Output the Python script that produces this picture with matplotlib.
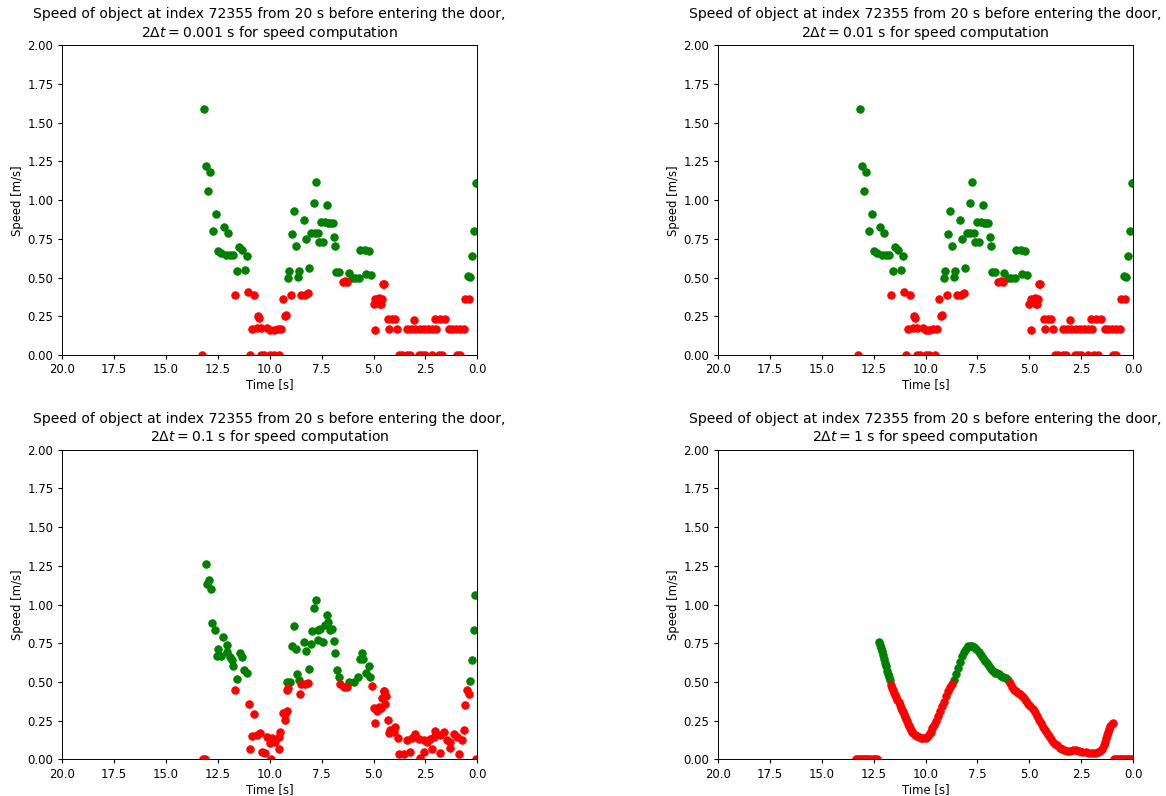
import matplotlib
matplotlib.use("Agg")
import matplotlib.pyplot as plt

TITLE = "Speed of object at index 72355 from 20 s before entering the door,\n$2\\Delta t = {}$ s for speed computation"
DT_LABELS = ["0.001", "0.01", "0.1", "1"]

# --- 2dt = 0.001 s (the 0.01 s panel looks the same) ---
t1_green = [13.16, 13.08, 12.87, 12.98, 12.59, 12.74, 12.19, 11.98, 12.47, 12.35, 12.1, 11.9, 11.75,
            11.47, 11.31, 11.08, 11.58, 11.18, 9.06, 9.12, 8.58, 8.64, 8.1, 7.77, 7.86, 7.25, 8.82,
            8.34, 7.53, 7.33, 7.2, 7.08, 6.97, 8.9, 8.01, 7.84, 7.68, 8.26, 7.61, 7.41, 8.74, 6.92,
            6.84, 6.81, 6.68, 6.2, 6.03, 5.87, 5.71, 5.64, 5.43, 5.2, 5.36, 5.1,
            0.02, 0.06, 0.18, 0.26, 0.47, 0.34]
v1_green = [1.59, 1.22, 1.18, 1.06, 0.91, 0.80, 0.83, 0.79, 0.67, 0.66, 0.645, 0.645, 0.645,
            0.70, 0.68, 0.64, 0.54, 0.55, 0.54, 0.50, 0.54, 0.505, 0.56, 1.12, 0.985, 0.97, 0.93,
            0.87, 0.86, 0.86, 0.855, 0.855, 0.85, 0.78, 0.79, 0.79, 0.785, 0.75, 0.73, 0.73, 0.705, 0.76,
            0.705, 0.535, 0.535, 0.53, 0.50, 0.50, 0.50, 0.68, 0.68, 0.675, 0.52, 0.515,
            1.11, 1.11, 0.80, 0.64, 0.51, 0.505]
t1_red = [11.66, 11.02, 10.75, 10.57, 10.5, 10.86, 10.62, 10.41, 10.13, 9.97, 9.81, 9.62, 9.46,
          9.36, 9.25, 9.2, 13.26, 10.95, 10.4, 10.26, 9.97, 9.81, 9.55, 8.98, 8.48, 8.29, 8.13,
          6.49, 6.28, 6.38, 4.56, 4.48, 4.92, 4.72, 4.59, 5.0, 4.67, 4.62, 4.92, 4.32, 4.11, 3.95,
          3.07, 2.02, 1.78, 1.54, 4.27, 3.87, 3.39, 3.2, 2.99, 2.78, 2.59, 2.39, 2.18, 1.98, 1.38,
          1.22, 1.01, 0.82, 0.66, 3.79, 3.63, 3.39, 3.23, 2.83, 2.67, 2.51, 2.18, 1.87, 1.7, 0.98,
          0.82, 0.58, 0.42]
v1_red = [0.39, 0.41, 0.39, 0.25, 0.24, 0.17, 0.175, 0.175, 0.175, 0.16, 0.16, 0.17, 0.17,
          0.36, 0.25, 0.26, 0.0, 0.0, 0.0, 0.0, 0.0, 0.0, 0.0, 0.39, 0.385, 0.39, 0.40,
          0.47, 0.47, 0.48, 0.46, 0.46, 0.36, 0.37, 0.36, 0.33, 0.33, 0.33, 0.16, 0.23, 0.23, 0.235,
          0.225, 0.23, 0.235, 0.23, 0.165, 0.165, 0.165, 0.165, 0.165, 0.165, 0.165, 0.165, 0.165, 0.165, 0.165,
          0.165, 0.165, 0.165, 0.165, 0.0, 0.0, 0.0, 0.0, 0.0, 0.0, 0.0, 0.0, 0.0, 0.0, 0.0,
          0.0, 0.36, 0.36]

# --- 2dt = 0.1 s ---
t3_green = [13.07, 12.92, 13.0, 12.83, 12.76, 12.63, 12.22, 12.03, 12.47, 12.52, 12.35, 12.06, 11.9,
            11.82, 11.42, 11.34, 11.74, 11.58, 11.23, 11.07, 9.14, 9.01,
            7.77, 7.86, 8.82, 7.25, 7.17, 7.0, 7.08, 7.33, 7.57, 7.68, 7.94, 7.65, 7.41, 6.92, 8.34,
            8.01, 8.26, 8.93, 8.74, 6.84, 8.1, 8.66, 8.58, 6.76, 6.68, 6.2, 5.96, 5.75, 5.56, 5.53,
            5.64, 5.24, 5.36, 5.16, 0.10, 0.18, 0.26, 0.34]
v3_green = [1.26, 1.16, 1.13, 1.10, 0.88, 0.835, 0.79, 0.74, 0.71, 0.67, 0.67, 0.695, 0.66,
            0.64, 0.685, 0.66, 0.60, 0.52, 0.58, 0.56, 0.50, 0.50,
            1.03, 0.975, 0.86, 0.93, 0.89, 0.845, 0.835, 0.87, 0.845, 0.835, 0.83, 0.77, 0.76, 0.765, 0.76,
            0.745, 0.70, 0.73, 0.71, 0.685, 0.585, 0.55, 0.51, 0.58, 0.53, 0.50, 0.50, 0.53, 0.69, 0.65,
            0.65, 0.60, 0.56, 0.535, 1.06, 0.835, 0.645, 0.505]
t3_red = [11.66, 11.0, 10.75, 10.86, 10.62, 10.46, 10.13, 9.9, 9.73, 9.57, 9.98, 9.49, 10.94, 10.38,
          10.22, 9.53, 9.94, 13.19, 13.1, 9.36, 9.25, 9.17, 9.12, 9.17, 9.25, 8.48, 8.29, 8.13, 8.52,
          6.6, 6.44, 6.28, 5.08, 4.51, 4.59, 5.0, 4.76, 4.84, 4.92, 4.43, 4.48, 4.4, 4.64, 4.32, 4.19,
          3.95, 4.27, 4.03, 3.84, 3.39, 3.15, 2.99, 2.83, 2.59, 2.42, 2.27, 2.1, 2.02, 1.78, 1.62, 1.46,
          1.3, 1.14, 0.98, 0.74, 0.66, 3.79, 3.52, 3.23, 2.59, 2.18, 1.78, 1.3, 0.9, 2.78, 0.50, 0.42,
          0.58, 0.05]
v3_red = [0.445, 0.36, 0.29, 0.15, 0.16, 0.17, 0.147, 0.137, 0.115, 0.147, 0.108, 0.18, 0.07, 0.045,
          0.04, 0.07, 0.005, 0.0, 0.0, 0.30, 0.29, 0.45, 0.46, 0.31, 0.255, 0.487, 0.49, 0.495, 0.42,
          0.49, 0.47, 0.47, 0.475, 0.44, 0.395, 0.33, 0.34, 0.31, 0.234, 0.36, 0.44, 0.41, 0.33, 0.255, 0.19,
          0.21, 0.17, 0.18, 0.137, 0.126, 0.137, 0.165, 0.13, 0.126, 0.115, 0.13, 0.147, 0.184, 0.158, 0.18, 0.126,
          0.115, 0.165, 0.147, 0.126, 0.19, 0.035, 0.035, 0.05, 0.05, 0.066, 0.044, 0.072, 0.035, 0.008, 0.45, 0.42,
          0.35, 0.0]

# --- 2dt = 1 s ---
t4_green = [12.25, 12.2, 12.15, 12.1, 12.05, 12.0, 11.95, 11.9, 11.85, 11.8, 11.75, 11.7,
            8.65, 8.55, 8.45, 8.35, 8.25, 8.15, 8.05, 7.95, 7.85, 7.75, 7.65, 7.55, 7.45, 7.35,
            7.25, 7.15, 7.05, 6.95, 6.85, 6.75, 6.65, 6.55, 6.45, 6.35, 6.25, 6.15, 6.05]
v4_green = [0.76, 0.74, 0.72, 0.70, 0.675, 0.65, 0.62, 0.60, 0.57, 0.55, 0.535, 0.515,
            0.51, 0.55, 0.59, 0.63, 0.665, 0.695, 0.715, 0.73, 0.73, 0.73, 0.725, 0.715, 0.695, 0.675,
            0.655, 0.635, 0.62, 0.605, 0.585, 0.57, 0.56, 0.555, 0.55, 0.54, 0.535, 0.525, 0.51]
t4_red = [13.35, 13.25, 13.15, 13.05, 12.95, 12.85, 12.75, 12.65, 12.55, 12.45, 12.35,
          11.65, 11.6, 11.55, 11.5, 11.45, 11.4, 11.35, 11.3, 11.25, 11.2, 11.15, 11.1, 11.05, 11.0,
          10.95, 10.9, 10.85, 10.8, 10.75, 10.7, 10.65, 10.6, 10.5, 10.4, 10.3, 10.2, 10.1, 10.0,
          9.9, 9.8, 9.75, 9.7, 9.6, 9.5, 9.4, 9.3, 9.2, 9.1, 9.0, 8.9, 8.8, 8.72,
          5.95, 5.85, 5.75, 5.65, 5.55, 5.45, 5.35, 5.25, 5.15, 5.05, 4.95, 4.85, 4.75, 4.65, 4.55,
          4.45, 4.35, 4.25, 4.15, 4.05, 3.95, 3.85, 3.75, 3.65, 3.55, 3.45, 3.35, 3.2, 3.05, 2.9,
          2.75, 2.6, 2.45, 2.3, 2.15, 2.0, 1.85, 1.7, 1.6, 1.5, 1.42, 1.36, 1.3, 1.25, 1.2, 1.15,
          1.1, 1.05, 1.0, 0.95, 0.85, 0.75, 0.65, 0.55, 0.45, 0.35, 0.25, 0.15, 0.05]
v4_red = [0.0, 0.0, 0.0, 0.0, 0.0, 0.0, 0.0, 0.0, 0.0, 0.0, 0.0,
          0.48, 0.46, 0.445, 0.43, 0.415, 0.40, 0.385, 0.37, 0.35, 0.335, 0.32, 0.305, 0.29, 0.275,
          0.26, 0.245, 0.23, 0.215, 0.20, 0.19, 0.18, 0.17, 0.16, 0.15, 0.145, 0.14, 0.14, 0.14,
          0.15, 0.17, 0.18, 0.20, 0.225, 0.25, 0.28, 0.31, 0.345, 0.37, 0.41, 0.44, 0.47, 0.49,
          0.495, 0.47, 0.45, 0.44, 0.43, 0.42, 0.41, 0.395, 0.38, 0.36, 0.345, 0.325, 0.305, 0.28, 0.255,
          0.235, 0.21, 0.19, 0.17, 0.15, 0.13, 0.115, 0.10, 0.09, 0.075, 0.065, 0.06, 0.055, 0.055, 0.06,
          0.06, 0.055, 0.05, 0.045, 0.04, 0.04, 0.04, 0.045, 0.055, 0.07, 0.09, 0.11, 0.135, 0.155, 0.175, 0.195,
          0.215, 0.23, 0.235, 0.0, 0.0, 0.0, 0.0, 0.0, 0.0, 0.0, 0.0, 0.0, 0.0]

PANELS = [
    (t1_green, v1_green, t1_red, v1_red),
    (t1_green, v1_green, t1_red, v1_red),
    (t3_green, v3_green, t3_red, v3_red),
    (t4_green, v4_green, t4_red, v4_red),
]


def main():
    # the reference looks like a larger figure saved at a lower dpi, so scale text down
    plt.rcParams['font.size'] = 8.4
    plt.rcParams['xtick.major.size'] = 3
    plt.rcParams['ytick.major.size'] = 3
    plt.rcParams['xtick.major.pad'] = 3
    plt.rcParams['ytick.major.pad'] = 3
    plt.rcParams['axes.linewidth'] = 0.7

    fig, axes = plt.subplots(2, 2, figsize=(11.66, 7.96), dpi=100)
    fig.subplots_adjust(left=0.053, right=0.972, bottom=0.046, top=0.943,
                        wspace=0.578, hspace=0.306)

    for ax, dt, (tg, vg, tr, vr) in zip(axes.flat, DT_LABELS, PANELS):
        ax.scatter(tg, vg, c='green', s=28, linewidths=0.8)
        ax.scatter(tr, vr, c='red', s=28, linewidths=0.8)
        ax.set_xlim(20, 0)
        ax.set_ylim(0, 2)
        ax.set_xticks([20, 17.5, 15, 12.5, 10, 7.5, 5, 2.5, 0])
        ax.set_yticks([0, 0.25, 0.5, 0.75, 1.0, 1.25, 1.5, 1.75, 2.0])
        ax.set_title(TITLE.format(dt))
        ax.set_xlabel('Time [s]', labelpad=1.5)
        ax.set_ylabel('Speed [m/s]', labelpad=2.5)

    fig.savefig('out.png', dpi=100)


if __name__ == "__main__":
    main()
